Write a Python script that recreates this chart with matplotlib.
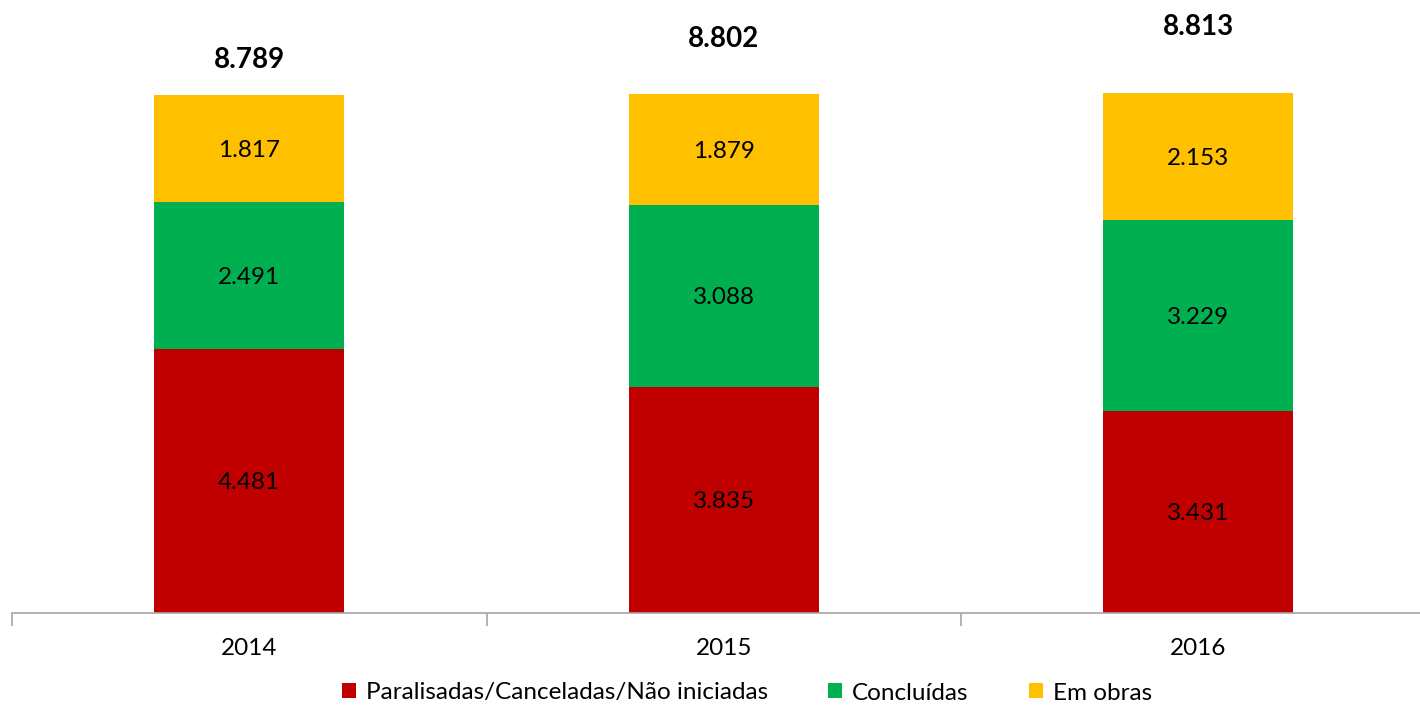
import numpy as np
import matplotlib.pyplot as plt
from matplotlib.patches import Patch

plt.rcParams['font.family'] = ['Lato', 'DejaVu Sans']

anos = ['2014', '2015', '2016']
paralisadas = [4481, 3835, 3431]
concluidas = [2491, 3088, 3229]
em_obras = [1817, 1879, 2153]
totais = [8789, 8802, 8813]

series = ['Paralisadas/Canceladas/Não iniciadas', 'Concluídas', 'Em obras']
cores = ['#C00000', '#00B050', '#FFC000']

# distancia do total acima da barra (px), como na figura original
offset_total = [37, 57, 69]


def fmt(v):
    return f'{v:,}'.replace(',', '.')


fig = plt.figure(figsize=(14.2, 7.05), dpi=100)
ax = fig.add_axes([12 / 1420, 92 / 705, 1423.5 / 1420, 613 / 705])

x = np.arange(len(anos))
base = np.zeros(len(anos))
for vals, cor in zip([paralisadas, concluidas, em_obras], cores):
    ax.bar(x, vals, width=0.4, bottom=base, color=cor, zorder=2)
    for xi, b, v in zip(x, base, vals):
        ax.text(xi, b + v / 2, fmt(v), ha='center', va='center_baseline', fontsize=17.5, color='black')
    base = base + np.array(vals)

for xi, t, off in zip(x, totais, offset_total):
    ax.annotate(fmt(t), (xi, t), xytext=(0, off * 0.72), textcoords='offset points',
                ha='center', va='center_baseline', fontsize=20, fontweight='bold')

ax.set_xlim(-0.5, 2.5)
ax.set_ylim(0, 613 / 0.05899)

for s in ['top', 'right', 'left']:
    ax.spines[s].set_visible(False)
ax.spines['bottom'].set_color('#A6A6A6')
ax.spines['bottom'].set_linewidth(1.2)
ax.set_yticks([])
ax.set_xticks([-0.5, 0.5, 1.5, 2.5])
ax.set_xticklabels([])
ax.set_xticks(x, minor=True)
ax.set_xticklabels(anos, minor=True, fontsize=17.5)
ax.tick_params(axis='x', which='major', length=9, width=1.2, color='#A6A6A6', direction='out')
ax.tick_params(axis='x', which='minor', length=0, pad=18)

handles = [Patch(facecolor=c, edgecolor='none') for c in cores]
fig.legend(handles, series, loc='center', bbox_to_anchor=(747 / 1420, 12 / 705), ncol=3,
           frameon=False, fontsize=17.5, handlelength=0.57, handleheight=0.57,
           handletextpad=0.4, columnspacing=2.5, borderpad=0)

fig.savefig('out.png', dpi=100)
